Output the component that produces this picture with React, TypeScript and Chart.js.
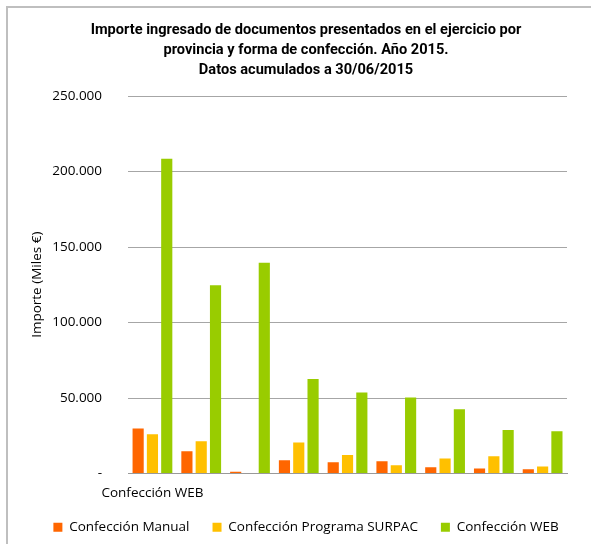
import React, { useEffect, useRef } from "react";
import { Chart, registerables } from "chart.js";

Chart.register(...registerables);

const categories = ["Confección WEB", "", "", "", "", "", "", "", ""];
const manual = [29800, 14800, 1100, 8800, 7500, 8100, 4200, 3300, 2800];
const surpac = [26000, 21400, 0, 20500, 12300, 5500, 9900, 11400, 4600];
const web = [208400, 124600, 139600, 62600, 53600, 50400, 42500, 28800, 27900];
const seriesNames = ["Confección Manual", "Confección Programa SURPAC", "Confección WEB"];
const titleLines = [
  "Importe ingresado de documentos presentados en el ejercicio por",
  "provincia y forma de confección. Año 2015.",
  "Datos acumulados a 30/06/2015",
];
const yTitle = "Importe (Miles €)";

const fmt = (v: number) => (v === 0 ? "-" : v.toLocaleString("de-DE"));

export default function App() {
  const ref = useRef<HTMLCanvasElement | null>(null);
  useEffect(() => {
    if (!ref.current) return;
    const font = "'Open Sans', sans-serif";
    const chart = new Chart(ref.current, {
      type: "bar",
      data: {
        labels: categories,
        datasets: [
          { label: seriesNames[0], data: manual, backgroundColor: "#FF6600" },
          { label: seriesNames[1], data: surpac, backgroundColor: "#FFC000" },
          { label: seriesNames[2], data: web, backgroundColor: "#99CC00" },
        ],
      },
      options: {
        animation: false,
        responsive: false,
        maintainAspectRatio: false,
        layout: { padding: { left: 22, right: 1, top: 20, bottom: 0 } },
        datasets: { bar: { categoryPercentage: 0.88, barPercentage: 0.78 } },
        plugins: {
          title: {
            display: true,
            text: titleLines,
            color: "#000",
            font: { family: "Roboto, sans-serif", size: 14.6, weight: "bold", lineHeight: 1.37 },
            padding: { top: 0, bottom: 16 },
          },
          legend: {
            position: "bottom",
            labels: {
              boxWidth: 9,
              boxHeight: 9,
              padding: 23,
              color: "#000",
              font: { family: font, size: 13.5 },
            },
          },
          tooltip: { enabled: false },
        },
        scales: {
          x: {
            grid: { display: false, drawTicks: false },
            border: { display: true, color: "#999" },
            ticks: {
              autoSkip: false,
              maxRotation: 0,
              color: "#000",
              padding: 12,
              font: { family: font, size: 13.5 },
            },
            afterFit: (scale: any) => {
              scale.height = 24;
            },
          },
          y: {
            min: 0,
            max: 250000,
            border: { display: false },
            grid: { color: "#A6A6A6", drawTicks: false },
            ticks: {
              stepSize: 50000,
              padding: 26,
              color: "#000",
              font: { family: font, size: 13.5 },
              callback: (v: any) => fmt(Number(v)),
            },
            title: {
              display: true,
              text: yTitle,
              color: "#000",
              font: { family: font, size: 13.5 },
              padding: { top: 7, bottom: -19 },
            },
          },
          yRight: {
            type: "linear",
            position: "right",
            display: true,
            min: 0,
            max: 250000,
            grid: { display: false, drawTicks: false },
            border: { display: false },
            ticks: { display: false },
            afterFit: (scale: any) => {
              scale.width = 23;
            },
          },
        },
      },
    });
    return () => chart.destroy();
  }, []);
  return (
    <div style={{ position: "absolute", left: 0, top: 0, width: 591, height: 544, background: "#fff", overflow: "hidden" }}>
      <div
        style={{
          position: "absolute",
          left: 6,
          top: 6,
          width: 600,
          height: 600,
          borderLeft: "2px solid #BFBFBF",
          borderTop: "2px solid #BFBFBF",
        }}
      />
      <canvas ref={ref} width={591} height={544} style={{ position: "absolute", left: 0, top: 0 }} />
    </div>
  );
}
